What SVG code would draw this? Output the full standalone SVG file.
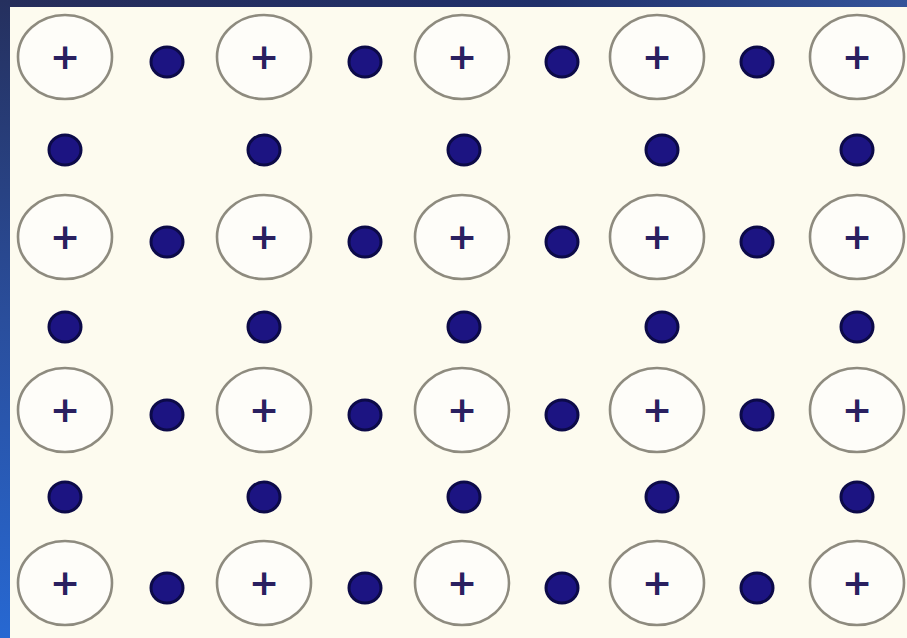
<svg xmlns="http://www.w3.org/2000/svg" width="907" height="638" viewBox="0 0 907 638">
<style>
.ion ellipse{fill:#fefdf9;stroke:#8e8b7f;stroke-width:2.6}
.ion text{font-family:"DejaVu Sans",sans-serif;font-weight:bold;font-size:36px;fill:#2a2060;text-anchor:middle}
.e{fill:#1c1482;stroke:#0c0a48;stroke-width:3}
</style>
<defs>
<linearGradient id="left" x1="0" y1="0" x2="0" y2="1">
<stop offset="0" stop-color="#25305e"/>
<stop offset="0.5" stop-color="#2a4e9c"/>
<stop offset="1" stop-color="#2768d2"/>
</linearGradient>
<linearGradient id="top" x1="0" y1="0" x2="1" y2="0">
<stop offset="0" stop-color="#262d5a"/>
<stop offset="0.6" stop-color="#20306a"/>
<stop offset="1" stop-color="#34549a"/>
</linearGradient>
</defs>
<rect x="0" y="0" width="907" height="638" fill="#fdfbef"/>
<rect x="0" y="0" width="907" height="7" fill="url(#top)"/>
<rect x="0" y="0" width="10" height="638" fill="url(#left)"/>

<g id="ions">
<g id="ion-1-1" class="ion"><ellipse cx="65" cy="57" rx="47" ry="42"/><text x="65" y="69">+</text></g>
<g id="ion-1-2" class="ion"><ellipse cx="264" cy="57" rx="47" ry="42"/><text x="264" y="69">+</text></g>
<g id="ion-1-3" class="ion"><ellipse cx="462" cy="57" rx="47" ry="42"/><text x="462" y="69">+</text></g>
<g id="ion-1-4" class="ion"><ellipse cx="657" cy="57" rx="47" ry="42"/><text x="657" y="69">+</text></g>
<g id="ion-1-5" class="ion"><ellipse cx="857" cy="57" rx="47" ry="42"/><text x="857" y="69">+</text></g>

<g id="ion-2-1" class="ion"><ellipse cx="65" cy="237" rx="47" ry="42"/><text x="65" y="249">+</text></g>
<g id="ion-2-2" class="ion"><ellipse cx="264" cy="237" rx="47" ry="42"/><text x="264" y="249">+</text></g>
<g id="ion-2-3" class="ion"><ellipse cx="462" cy="237" rx="47" ry="42"/><text x="462" y="249">+</text></g>
<g id="ion-2-4" class="ion"><ellipse cx="657" cy="237" rx="47" ry="42"/><text x="657" y="249">+</text></g>
<g id="ion-2-5" class="ion"><ellipse cx="857" cy="237" rx="47" ry="42"/><text x="857" y="249">+</text></g>

<g id="ion-3-1" class="ion"><ellipse cx="65" cy="410" rx="47" ry="42"/><text x="65" y="422">+</text></g>
<g id="ion-3-2" class="ion"><ellipse cx="264" cy="410" rx="47" ry="42"/><text x="264" y="422">+</text></g>
<g id="ion-3-3" class="ion"><ellipse cx="462" cy="410" rx="47" ry="42"/><text x="462" y="422">+</text></g>
<g id="ion-3-4" class="ion"><ellipse cx="657" cy="410" rx="47" ry="42"/><text x="657" y="422">+</text></g>
<g id="ion-3-5" class="ion"><ellipse cx="857" cy="410" rx="47" ry="42"/><text x="857" y="422">+</text></g>

<g id="ion-4-1" class="ion"><ellipse cx="65" cy="583" rx="47" ry="42"/><text x="65" y="595">+</text></g>
<g id="ion-4-2" class="ion"><ellipse cx="264" cy="583" rx="47" ry="42"/><text x="264" y="595">+</text></g>
<g id="ion-4-3" class="ion"><ellipse cx="462" cy="583" rx="47" ry="42"/><text x="462" y="595">+</text></g>
<g id="ion-4-4" class="ion"><ellipse cx="657" cy="583" rx="47" ry="42"/><text x="657" y="595">+</text></g>
<g id="ion-4-5" class="ion"><ellipse cx="857" cy="583" rx="47" ry="42"/><text x="857" y="595">+</text></g>
</g>

<g id="electrons">
<g id="e-r1-1"><ellipse class="e" cx="167" cy="62" rx="16" ry="15"/></g>
<g id="e-r1-2"><ellipse class="e" cx="365" cy="62" rx="16" ry="15"/></g>
<g id="e-r1-3"><ellipse class="e" cx="562" cy="62" rx="16" ry="15"/></g>
<g id="e-r1-4"><ellipse class="e" cx="757" cy="62" rx="16" ry="15"/></g>

<g id="e-m1-1"><ellipse class="e" cx="65" cy="150" rx="16" ry="15"/></g>
<g id="e-m1-2"><ellipse class="e" cx="264" cy="150" rx="16" ry="15"/></g>
<g id="e-m1-3"><ellipse class="e" cx="464" cy="150" rx="16" ry="15"/></g>
<g id="e-m1-4"><ellipse class="e" cx="662" cy="150" rx="16" ry="15"/></g>
<g id="e-m1-5"><ellipse class="e" cx="857" cy="150" rx="16" ry="15"/></g>

<g id="e-r2-1"><ellipse class="e" cx="167" cy="242" rx="16" ry="15"/></g>
<g id="e-r2-2"><ellipse class="e" cx="365" cy="242" rx="16" ry="15"/></g>
<g id="e-r2-3"><ellipse class="e" cx="562" cy="242" rx="16" ry="15"/></g>
<g id="e-r2-4"><ellipse class="e" cx="757" cy="242" rx="16" ry="15"/></g>

<g id="e-m2-1"><ellipse class="e" cx="65" cy="327" rx="16" ry="15"/></g>
<g id="e-m2-2"><ellipse class="e" cx="264" cy="327" rx="16" ry="15"/></g>
<g id="e-m2-3"><ellipse class="e" cx="464" cy="327" rx="16" ry="15"/></g>
<g id="e-m2-4"><ellipse class="e" cx="662" cy="327" rx="16" ry="15"/></g>
<g id="e-m2-5"><ellipse class="e" cx="857" cy="327" rx="16" ry="15"/></g>

<g id="e-r3-1"><ellipse class="e" cx="167" cy="415" rx="16" ry="15"/></g>
<g id="e-r3-2"><ellipse class="e" cx="365" cy="415" rx="16" ry="15"/></g>
<g id="e-r3-3"><ellipse class="e" cx="562" cy="415" rx="16" ry="15"/></g>
<g id="e-r3-4"><ellipse class="e" cx="757" cy="415" rx="16" ry="15"/></g>

<g id="e-m3-1"><ellipse class="e" cx="65" cy="497" rx="16" ry="15"/></g>
<g id="e-m3-2"><ellipse class="e" cx="264" cy="497" rx="16" ry="15"/></g>
<g id="e-m3-3"><ellipse class="e" cx="464" cy="497" rx="16" ry="15"/></g>
<g id="e-m3-4"><ellipse class="e" cx="662" cy="497" rx="16" ry="15"/></g>
<g id="e-m3-5"><ellipse class="e" cx="857" cy="497" rx="16" ry="15"/></g>

<g id="e-r4-1"><ellipse class="e" cx="167" cy="588" rx="16" ry="15"/></g>
<g id="e-r4-2"><ellipse class="e" cx="365" cy="588" rx="16" ry="15"/></g>
<g id="e-r4-3"><ellipse class="e" cx="562" cy="588" rx="16" ry="15"/></g>
<g id="e-r4-4"><ellipse class="e" cx="757" cy="588" rx="16" ry="15"/></g>
</g>
<g id="connectors"/>
</svg>
